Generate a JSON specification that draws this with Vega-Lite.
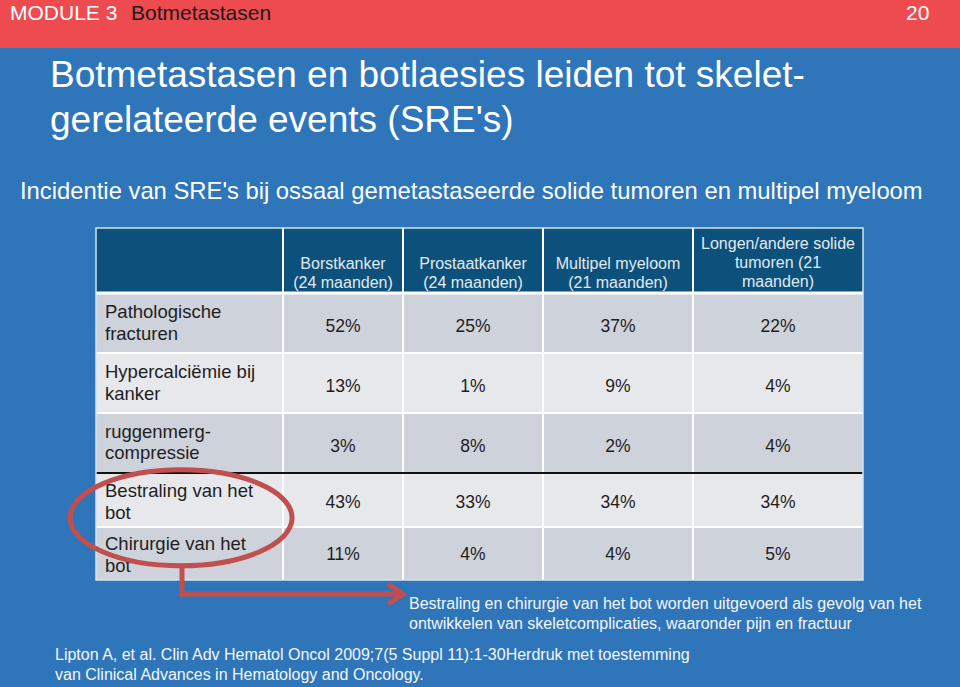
{
  "$schema": "https://vega.github.io/schema/vega-lite/v6.json",
  "width": 960,
  "height": 687,
  "autosize": {"type": "none"},
  "padding": 0,
  "background": "#2E75BA",
  "config": {"view": {"stroke": null}, "font": "Liberation Sans"},
  "datasets": {
    "slide": [
      {"kind": "module", "slot": 1, "line": 1, "text": "MODULE 3"},
      {"kind": "section", "slot": 2, "line": 1, "text": "Botmetastasen"},
      {"kind": "page", "slot": 3, "line": 1, "text": "20"},
      {"kind": "title", "slot": 4, "line": 3, "text": "Botmetastasen en botlaesies leiden tot skelet-"},
      {"kind": "title", "slot": 4, "line": 4, "text": "gerelateerde events (SRE's)"},
      {"kind": "subtitle", "slot": 5, "line": 5, "text": "Incidentie van SRE's bij ossaal gemetastaseerde solide tumoren en multipel myeloom"},
      {"kind": "note", "slot": 6, "line": 6, "text": "Bestraling en chirurgie van het bot worden uitgevoerd als gevolg van het"},
      {"kind": "note", "slot": 6, "line": 7, "text": "ontwikkelen van skeletcomplicaties, waaronder pijn en fractuur"},
      {"kind": "source", "slot": 7, "line": 8, "text": "Lipton A, et al. Clin Adv Hematol Oncol 2009;7(5 Suppl 11):1-30Herdruk met toestemming"},
      {"kind": "source", "slot": 7, "line": 9, "text": "van Clinical Advances in Hematology and Oncology."}
    ],
    "cols": [
      {"c": 1, "header": "Borstkanker\n(24 maanden)"},
      {"c": 2, "header": "Prostaatkanker\n(24 maanden)"},
      {"c": 3, "header": "Multipel myeloom\n(21 maanden)"},
      {"c": 4, "header": "Longen/andere solide\ntumoren (21\nmaanden)"}
    ],
    "rows": [
      {"r": 1, "label": "Pathologische\nfracturen"},
      {"r": 2, "label": "Hypercalciëmie bij\nkanker"},
      {"r": 3, "label": "ruggenmerg-\ncompressie"},
      {"r": 4, "label": "Bestraling van het\nbot"},
      {"r": 5, "label": "Chirurgie van het\nbot"}
    ],
    "table": [
      {"r": 1, "c": 1, "share": 0.52}, {"r": 1, "c": 2, "share": 0.25}, {"r": 1, "c": 3, "share": 0.37}, {"r": 1, "c": 4, "share": 0.22},
      {"r": 2, "c": 1, "share": 0.13}, {"r": 2, "c": 2, "share": 0.01}, {"r": 2, "c": 3, "share": 0.09}, {"r": 2, "c": 4, "share": 0.04},
      {"r": 3, "c": 1, "share": 0.03}, {"r": 3, "c": 2, "share": 0.08}, {"r": 3, "c": 3, "share": 0.02}, {"r": 3, "c": 4, "share": 0.04},
      {"r": 4, "c": 1, "share": 0.43}, {"r": 4, "c": 2, "share": 0.33}, {"r": 4, "c": 3, "share": 0.34}, {"r": 4, "c": 4, "share": 0.34},
      {"r": 5, "c": 1, "share": 0.11}, {"r": 5, "c": 2, "share": 0.04}, {"r": 5, "c": 3, "share": 0.04}, {"r": 5, "c": 4, "share": 0.05}
    ]
  },
  "resolve": {"scale": {"x": "independent", "y": "independent"}},
  "layer": [
    {
      "data": {"values": [{"part": "banner"}]},
      "mark": {"type": "rect", "color": "#EE4B50"},
      "encoding": {
        "x": {"datum": 0, "type": "quantitative", "axis": null, "scale": {"domain": [0,1,2,3,4,5,6,7,8], "range": [0,10,131,906,50,20,409,55,960], "nice": false, "zero": false}},
        "x2": {"datum": 8},
        "y": {"datum": 0, "type": "quantitative", "axis": null, "scale": {"domain": [0,1,2,3,4,5,6,7,8,9,10], "range": [0,13.7,48,75.9,120.9,191.8,604,623.5,655,674.5,687], "nice": false, "zero": false}},
        "y2": {"datum": 2}
      }
    },
    {
      "data": {"name": "slide"},
      "transform": [{"filter": "datum.line === 1"}],
      "mark": {"type": "text", "align": "left", "baseline": "middle", "fontSize": 21},
      "encoding": {
        "x": {"field": "slot", "type": "quantitative", "axis": null, "scale": {"domain": [0,1,2,3,4,5,6,7,8], "range": [0,10,131,906,50,20,409,55,960], "nice": false, "zero": false}},
        "y": {"field": "line", "type": "quantitative", "axis": null, "scale": {"domain": [0,1,2,3,4,5,6,7,8,9,10], "range": [0,13.7,48,75.9,120.9,191.8,604,623.5,655,674.5,687], "nice": false, "zero": false}},
        "text": {"field": "text"},
        "color": {"field": "kind", "type": "nominal", "legend": null, "scale": {"domain": ["module", "section", "page"], "range": ["#FFFFFF", "#1A1A1A", "#FFFFFF"]}}
      }
    },
    {
      "data": {"name": "slide"},
      "transform": [{"filter": "datum.kind === 'title'"}],
      "mark": {"type": "text", "align": "left", "baseline": "middle", "fontSize": 37, "color": "#FFFFFF"},
      "encoding": {
        "x": {"field": "slot", "type": "quantitative", "axis": null, "scale": {"domain": [0,1,2,3,4,5,6,7,8], "range": [0,10,131,906,50,20,409,55,960], "nice": false, "zero": false}},
        "y": {"field": "line", "type": "quantitative", "axis": null, "scale": {"domain": [0,1,2,3,4,5,6,7,8,9,10], "range": [0,13.7,48,75.9,120.9,191.8,604,623.5,655,674.5,687], "nice": false, "zero": false}},
        "text": {"field": "text"}
      }
    },
    {
      "data": {"name": "slide"},
      "transform": [{"filter": "datum.kind === 'subtitle'"}],
      "mark": {"type": "text", "align": "left", "baseline": "middle", "fontSize": 23.8, "color": "#FFFFFF"},
      "encoding": {
        "x": {"field": "slot", "type": "quantitative", "axis": null, "scale": {"domain": [0,1,2,3,4,5,6,7,8], "range": [0,10,131,906,50,20,409,55,960], "nice": false, "zero": false}},
        "y": {"field": "line", "type": "quantitative", "axis": null, "scale": {"domain": [0,1,2,3,4,5,6,7,8,9,10], "range": [0,13.7,48,75.9,120.9,191.8,604,623.5,655,674.5,687], "nice": false, "zero": false}},
        "text": {"field": "text"}
      }
    },
    {
      "data": {"values": [{"part": "header"}]},
      "mark": {"type": "rect", "color": "#0C507C"},
      "encoding": {
        "x": {"datum": 0, "type": "quantitative", "axis": null, "scale": {"domain": [0,1,2,3,4,5], "range": [96,283,403,543,693,863], "nice": false, "zero": false}},
        "x2": {"datum": 5},
        "y": {"datum": 0, "type": "quantitative", "axis": null, "scale": {"domain": [0,1,2,3,4,5,6], "range": [228,293,353,413,473,527,580], "nice": false, "zero": false}},
        "y2": {"datum": 1}
      }
    },
    {
      "data": {"values": [{"part": "body"}]},
      "mark": {"type": "rect", "color": "#CED2DA"},
      "encoding": {
        "x": {"datum": 0, "type": "quantitative", "axis": null, "scale": {"domain": [0,1,2,3,4,5], "range": [96,283,403,543,693,863], "nice": false, "zero": false}},
        "x2": {"datum": 5},
        "y": {"datum": 1, "type": "quantitative", "axis": null, "scale": {"domain": [0,1,2,3,4,5,6], "range": [228,293,353,413,473,527,580], "nice": false, "zero": false}},
        "y2": {"datum": 6}
      }
    },
    {
      "data": {"values": [{"part": "band2"}]},
      "mark": {"type": "rect", "color": "#E7E8EC"},
      "encoding": {
        "x": {"datum": 0, "type": "quantitative", "axis": null, "scale": {"domain": [0,1,2,3,4,5], "range": [96,283,403,543,693,863], "nice": false, "zero": false}},
        "x2": {"datum": 5},
        "y": {"datum": 2, "type": "quantitative", "axis": null, "scale": {"domain": [0,1,2,3,4,5,6], "range": [228,293,353,413,473,527,580], "nice": false, "zero": false}},
        "y2": {"datum": 3}
      }
    },
    {
      "data": {"values": [{"part": "band4"}]},
      "mark": {"type": "rect", "color": "#E7E8EC"},
      "encoding": {
        "x": {"datum": 0, "type": "quantitative", "axis": null, "scale": {"domain": [0,1,2,3,4,5], "range": [96,283,403,543,693,863], "nice": false, "zero": false}},
        "x2": {"datum": 5},
        "y": {"datum": 4, "type": "quantitative", "axis": null, "scale": {"domain": [0,1,2,3,4,5,6], "range": [228,293,353,413,473,527,580], "nice": false, "zero": false}},
        "y2": {"datum": 5}
      }
    },
    {
      "data": {"name": "cols"},
      "mark": {"type": "rule", "color": "#FFFFFF", "strokeWidth": 2},
      "encoding": {
        "x": {"field": "c", "type": "quantitative", "axis": null, "scale": {"domain": [0,1,2,3,4,5], "range": [96,283,403,543,693,863], "nice": false, "zero": false}},
        "y": {"datum": 0, "type": "quantitative", "axis": null, "scale": {"domain": [0,1,2,3,4,5,6], "range": [228,293,353,413,473,527,580], "nice": false, "zero": false}},
        "y2": {"datum": 6}
      }
    },
    {
      "data": {"name": "rows"},
      "mark": {"type": "rule"},
      "encoding": {
        "x": {"datum": 0, "type": "quantitative", "axis": null, "scale": {"domain": [0,1,2,3,4,5], "range": [96,283,403,543,693,863], "nice": false, "zero": false}},
        "x2": {"datum": 5},
        "y": {"field": "r", "type": "quantitative", "axis": null, "scale": {"domain": [0,1,2,3,4,5,6], "range": [228,293,353,413,473,527,580], "nice": false, "zero": false}},
        "color": {"condition": {"test": "datum.r === 4", "value": "#111111"}, "value": "#FFFFFF"},
        "strokeWidth": {"condition": {"test": "datum.r === 1", "value": 3}, "value": 2}
      }
    },
    {
      "data": {"values": [{"part": "outline"}]},
      "mark": {"type": "rect", "fill": null, "fillOpacity": 0, "stroke": "#D5E3F1", "strokeWidth": 1.5},
      "encoding": {
        "x": {"datum": 0, "type": "quantitative", "axis": null, "scale": {"domain": [0,1,2,3,4,5], "range": [96,283,403,543,693,863], "nice": false, "zero": false}},
        "x2": {"datum": 5},
        "y": {"datum": 0, "type": "quantitative", "axis": null, "scale": {"domain": [0,1,2,3,4,5,6], "range": [228,293,353,413,473,527,580], "nice": false, "zero": false}},
        "y2": {"datum": 6}
      }
    },
    {
      "data": {"name": "cols"},
      "mark": {"type": "text", "align": "center", "baseline": "middle", "fontSize": 16, "lineHeight": 19, "lineBreak": "\n", "color": "#E2EAF2"},
      "encoding": {
        "x": {"field": "c", "type": "quantitative", "axis": null, "scale": {"domain": [0,1,2,3,4], "range": [105,343,473,618,778], "nice": false, "zero": false}},
        "y": {"field": "c", "type": "quantitative", "axis": null, "scale": {"domain": [1,2,3,4], "range": [263.5,263.5,263.5,244], "nice": false, "zero": false}},
        "text": {"field": "header"}
      }
    },
    {
      "data": {"name": "rows"},
      "mark": {"type": "text", "align": "left", "baseline": "middle", "fontSize": 18.5, "lineHeight": 21.5, "lineBreak": "\n", "color": "#1E1E1E"},
      "encoding": {
        "x": {"datum": 0, "type": "quantitative", "axis": null, "scale": {"domain": [0,1,2,3,4], "range": [105,343,473,618,778], "nice": false, "zero": false}},
        "y": {"field": "r", "type": "quantitative", "axis": null, "scale": {"domain": [1,2,3,4,5], "range": [312,372,431.5,491,544], "nice": false, "zero": false}},
        "text": {"field": "label"}
      }
    },
    {
      "data": {"name": "table"},
      "mark": {"type": "text", "align": "center", "baseline": "middle", "fontSize": 17.5, "color": "#1E1E1E"},
      "encoding": {
        "x": {"field": "c", "type": "quantitative", "axis": null, "scale": {"domain": [0,1,2,3,4], "range": [105,343,473,618,778], "nice": false, "zero": false}},
        "y": {"field": "r", "type": "quantitative", "axis": null, "scale": {"domain": [1,2,3,4,5], "range": [327,387,446.5,502.5,554.5], "nice": false, "zero": false}},
        "text": {"field": "share", "type": "quantitative", "format": ".0%"}
      }
    },
    {
      "data": {"values": [{"part": "highlight"}]},
      "mark": {"type": "point", "shape": "M-1,0A1,0.432,0,1,1,1,0A1,0.432,0,1,1,-1,0Z", "filled": false, "strokeWidth": 5, "color": "#C0504D", "opacity": 1, "size": 49284},
      "encoding": {
        "x": {"datum": 0.455, "type": "quantitative", "axis": null, "scale": {"domain": [0,1,2,3,4,5], "range": [96,283,403,543,693,863], "nice": false, "zero": false}},
        "y": {"datum": 4.83, "type": "quantitative", "axis": null, "scale": {"domain": [0,1,2,3,4,5,6], "range": [228,293,353,413,473,527,580], "nice": false, "zero": false}}
      }
    },
    {
      "data": {"values": [{"part": "arrow-down"}]},
      "mark": {"type": "rule", "color": "#C0504D", "strokeWidth": 5, "strokeCap": "square"},
      "encoding": {
        "x": {"datum": 0.46, "type": "quantitative", "axis": null, "scale": {"domain": [0,1,2,3,4,5], "range": [96,283,403,543,693,863], "nice": false, "zero": false}},
        "y": {"datum": 5.74, "type": "quantitative", "axis": null, "scale": {"domain": [0,1,2,3,4,5,6], "range": [228,293,353,413,473,527,580], "nice": false, "zero": false}},
        "y2": {"datum": 6.265}
      }
    },
    {
      "data": {"values": [{"part": "arrow-right"}]},
      "mark": {"type": "rule", "color": "#C0504D", "strokeWidth": 5, "strokeCap": "square"},
      "encoding": {
        "x": {"datum": 0.46, "type": "quantitative", "axis": null, "scale": {"domain": [0,1,2,3,4,5], "range": [96,283,403,543,693,863], "nice": false, "zero": false}},
        "x2": {"datum": 1.95},
        "y": {"datum": 6.265, "type": "quantitative", "axis": null, "scale": {"domain": [0,1,2,3,4,5,6], "range": [228,293,353,413,473,527,580], "nice": false, "zero": false}}
      }
    },
    {
      "data": {"values": [{"part": "arrow-head"}]},
      "mark": {"type": "point", "shape": "M-1.5,-1L0,0L-1.5,1", "filled": false, "strokeWidth": 5, "color": "#C0504D", "opacity": 1, "size": 400},
      "encoding": {
        "x": {"datum": 2.0, "type": "quantitative", "axis": null, "scale": {"domain": [0,1,2,3,4,5], "range": [96,283,403,543,693,863], "nice": false, "zero": false}},
        "y": {"datum": 6.265, "type": "quantitative", "axis": null, "scale": {"domain": [0,1,2,3,4,5,6], "range": [228,293,353,413,473,527,580], "nice": false, "zero": false}}
      }
    },
    {
      "data": {"name": "slide"},
      "transform": [{"filter": "datum.kind === 'note' || datum.kind === 'source'"}],
      "mark": {"type": "text", "align": "left", "baseline": "middle", "fontSize": 16, "color": "#F5F7FA"},
      "encoding": {
        "x": {"field": "slot", "type": "quantitative", "axis": null, "scale": {"domain": [0,1,2,3,4,5,6,7,8], "range": [0,10,131,906,50,20,409,55,960], "nice": false, "zero": false}},
        "y": {"field": "line", "type": "quantitative", "axis": null, "scale": {"domain": [0,1,2,3,4,5,6,7,8,9,10], "range": [0,13.7,48,75.9,120.9,191.8,604,623.5,655,674.5,687], "nice": false, "zero": false}},
        "text": {"field": "text"}
      }
    }
  ]
}
